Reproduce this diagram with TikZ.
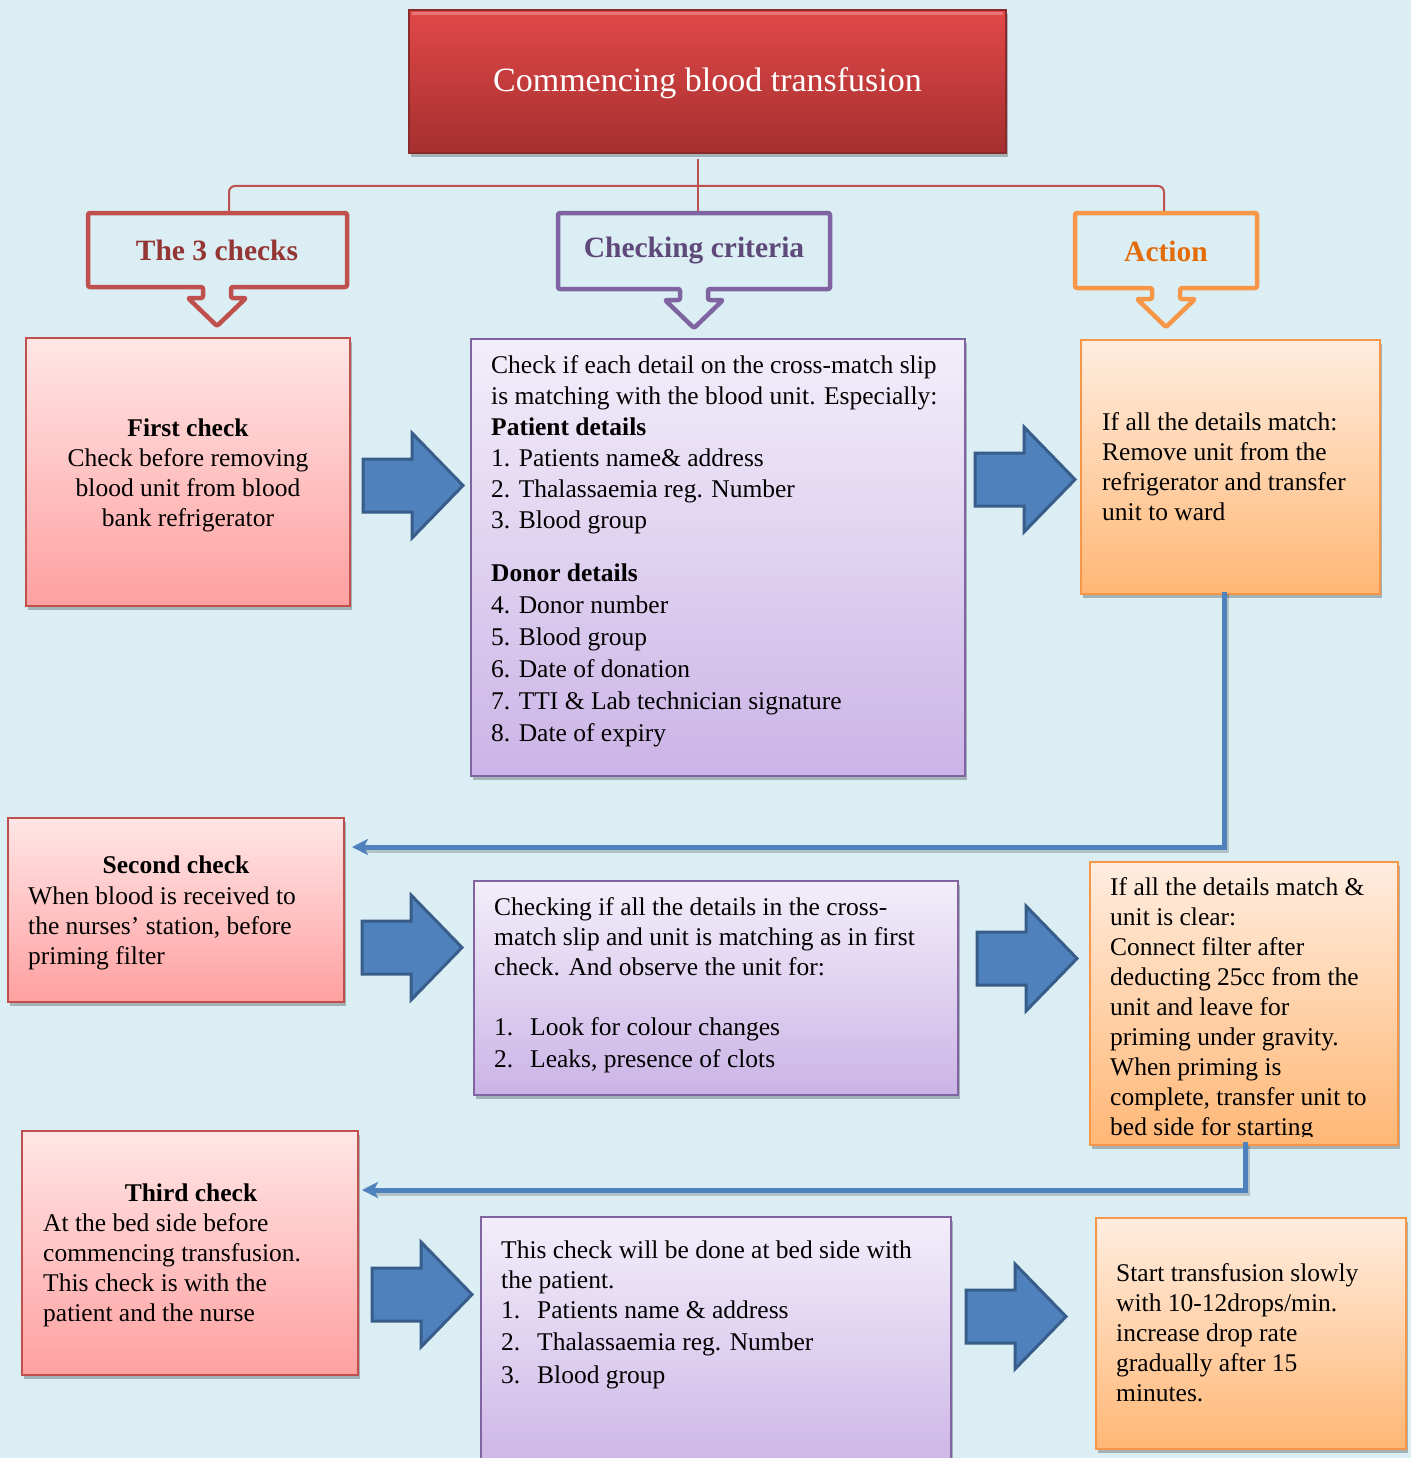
\documentclass[tikz,border=0pt]{standalone}
\usepackage{fontspec}
\setmainfont{Liberation Serif}
\usetikzlibrary{arrows.meta,shadows}
\definecolor{bg}{HTML}{DAEEF3}
\definecolor{redline}{HTML}{C0504D}
\definecolor{redtop}{HTML}{FFE6E6}
\definecolor{redbot}{HTML}{FFA0A0}
\definecolor{purline}{HTML}{8064A2}
\definecolor{purtop}{HTML}{F3EEFA}
\definecolor{purbot}{HTML}{CBB4E6}
\definecolor{orline}{HTML}{F79646}
\definecolor{ortop}{HTML}{FFEDE0}
\definecolor{orbot}{HTML}{FFB775}
\definecolor{titletop}{HTML}{E24848}
\definecolor{titlebot}{HTML}{A52F2F}
\definecolor{titleline}{HTML}{8B2A2A}
\definecolor{bluefill}{HTML}{4F81BD}
\definecolor{blueline}{HTML}{385D8A}
\definecolor{lblred}{HTML}{943634}
\definecolor{lblpur}{HTML}{5F497A}
\definecolor{lblor}{HTML}{E36C09}
\newcommand\fl{\rule{0pt}{20pt}}
\newcommand\calloutshape[6]{%
  \draw[callout, draw=#6] (#1,#2) -- (#3,#2) -- (#3,#4) -- (#5+14,#4) -- (#5+14,#4+11)
    -- (#5+29,#4+11) -- (#5,#4+39) -- (#5-29,#4+11) -- (#5-14,#4+11) -- (#5-14,#4) -- (#1,#4) -- cycle;}
\newcommand\blockarrow[2]{%
  \draw[blockarrow] (#1,#2+26) -- (#1+49,#2+26) -- (#1+49,#2) -- (#1+100,#2+52.5)
    -- (#1+49,#2+105) -- (#1+49,#2+79) -- (#1,#2+79) -- cycle;}
\tikzset{
  box/.style={draw, line width=2pt, inner sep=0pt, outer sep=0pt,
    drop shadow={shadow xshift=2pt, shadow yshift=-4pt, opacity=0.25, fill=black}},
  redbox/.style={box, draw=redline, top color=redtop, bottom color=redbot},
  purbox/.style={box, draw=purline, top color=purtop, bottom color=purbot},
  orbox/.style={box, draw=orline, top color=ortop, bottom color=orbot},
  titlebox/.style={box, draw=titleline, top color=titletop, bottom color=titlebot},
  titletext/.style={text=white, font=\fontsize{34}{38}\selectfont, inner sep=0pt},
  callout/.style={line width=4.5pt, rounded corners=2pt, line join=round},
  lbl/.style={font=\fontsize{29.5}{32}\selectfont\bfseries, inner sep=0pt},
  body/.style={font=\fontsize{25.5}{30}\selectfont, inner sep=0pt, align=left, anchor=north west, text=black},
  bodyc/.style={body, align=center, anchor=north},
  tree/.style={draw=redline, line width=2pt},
  conn/.style={draw=bluefill, line width=5pt, -{Stealth[length=16pt,width=16pt,inset=4pt]}},
  connshadow/.style={draw=black, opacity=0.18, line width=5pt},
  blockarrow/.style={fill=bluefill, draw=blueline, line width=3pt},
}
\begin{document}
\begin{tikzpicture}[x=1pt,y=-1pt]
\fill[bg] (0,0) rectangle (1411,1458);
\useasboundingbox (0,0) rectangle (1411,1458);

% title
\node[titlebox, minimum width=597pt, minimum height=143pt] (title) at (707.5,81.5) {};
\draw[white, opacity=0.25, line width=3pt] (412,14) -- (1003,14);
\node[titletext, anchor=base] (titlet) at (707.5,92) {Commencing blood transfusion};

% tree connectors
\coordinate (tj) at (698,159);
\coordinate (tm) at (698,212);
\coordinate (tl) at (229,212);
\coordinate (tr) at (1164,212);
\draw[tree] (tj) -- (tm);
\draw[tree, rounded corners=6pt] (tl) -- (229,186) -- (1164,186) -- (tr);

% callouts
\calloutshape{88}{213}{347}{287}{217}{redline}
\calloutshape{558}{213}{830}{289}{694}{purline}
\calloutshape{1075}{213}{1257}{288}{1166}{orline}
\node[lbl, text=lblred] (l1) at (217,250) {The 3 checks};
\node[lbl, text=lblpur] (l2) at (694,251) {Checking criteria};
\node[lbl, text=lblor] (l3) at (1166,251) {Action};

% row 1
\node[redbox, minimum width=324pt, minimum height=268pt] (s1) at (188,472) {};
\node[purbox, minimum width=494pt, minimum height=437pt] (m1) at (718,557.5) {};
\node[orbox, minimum width=299pt, minimum height=254pt] (o1) at (1230.5,467) {};
\node[bodyc] (s1t) at (188,416) {\fl\textbf{First check}\\Check before removing\\blood unit from blood\\bank refrigerator};
\node[body, font=\fontsize{25.5}{31}\selectfont] (m1a) at (491,353) {\fl Check if each detail on the cross-match slip\\is matching with the blood unit. Especially:\\\textbf{Patient details}\\1. Patients name\& address\\2. Thalassaemia reg. Number\\3. Blood group};
\node[body, font=\fontsize{25.5}{32}\selectfont] (m1b) at (491,561) {\fl\textbf{Donor details}\\4. Donor number\\5. Blood group\\6. Date of donation\\7. TTI \& Lab technician signature\\8. Date of expiry};
\node[body] (o1t) at (1102,410) {\fl If all the details match:\\Remove unit from the\\refrigerator and transfer\\unit to ward};
\blockarrow{363}{433}
\blockarrow{975}{427}

% connector 1
\coordinate (c1s) at (1224,592);
\coordinate (c1e) at (352,847);
\draw[connshadow] (1226,594) |- (362,850);
\draw[conn] (c1s) |- (c1e);

% row 2
\node[redbox, minimum width=336pt, minimum height=184pt] (s2) at (176,910) {};
\node[purbox, minimum width=484pt, minimum height=214pt] (m2) at (716,988) {};
\node[orbox, minimum width=308pt, minimum height=283pt] (o2) at (1244,1003.5) {};
\node[font=\fontsize{25.5}{30}\selectfont\bfseries, anchor=base, inner sep=0pt] (s2h) at (176,873) {Second check};
\node[body] (s2t) at (28,884) {\fl When blood is received to\\the nurses’ station, before\\priming filter};
\node[body] (m2a) at (494,895) {\fl Checking if all the details in the cross-\\match slip and unit is matching as in first\\check. And observe the unit for:};
\node[body, font=\fontsize{25.5}{32}\selectfont] (m2b) at (494,1015) {\fl\makebox[36pt][l]{1.}Look for colour changes\\\makebox[36pt][l]{2.}Leaks, presence of clots};
\begin{scope}
\clip (1090,862) rectangle (1398,1136);
\node[body] (o2t) at (1110,875) {\fl If all the details match \&\\unit is clear:\\Connect filter after\\deducting 25cc from the\\unit and leave for\\priming under gravity.\\When priming is\\complete, transfer unit to\\bed side for starting};
\end{scope}
\blockarrow{362}{895}
\blockarrow{977}{906}

% connector 2
\coordinate (c2s) at (1245,1142);
\coordinate (c2e) at (362,1190);
\draw[connshadow] (1247,1146) |- (372,1193);
\draw[conn] (c2s) |- (c2e);

% row 3
\node[redbox, minimum width=336pt, minimum height=244pt] (s3) at (190,1253) {};
\node[purbox, minimum width=470pt, minimum height=258pt] (m3) at (716,1346) {};
\node[orbox, minimum width=310pt, minimum height=231pt] (o3) at (1251,1333.5) {};
\node[font=\fontsize{25.5}{30}\selectfont\bfseries, anchor=base, inner sep=0pt] (s3h) at (191,1201) {Third check};
\node[body] (s3t) at (43,1211) {\fl At the bed side before\\commencing transfusion.\\This check is with the\\patient and the nurse};
\node[body] (m3a) at (501,1238) {\fl This check will be done at bed side with\\the patient.};
\node[body, font=\fontsize{25.5}{32.5}\selectfont] (m3b) at (501,1298) {\fl\makebox[36pt][l]{1.}Patients name \& address\\\makebox[36pt][l]{2.}Thalassaemia reg. Number\\\makebox[36pt][l]{3.}Blood group};
\node[body] (o3t) at (1116,1261) {\fl Start transfusion slowly\\with 10-12drops/min.\\increase drop rate\\gradually after 15\\minutes.};
\blockarrow{372}{1242}
\blockarrow{966}{1264}
\end{tikzpicture}
\end{document}
